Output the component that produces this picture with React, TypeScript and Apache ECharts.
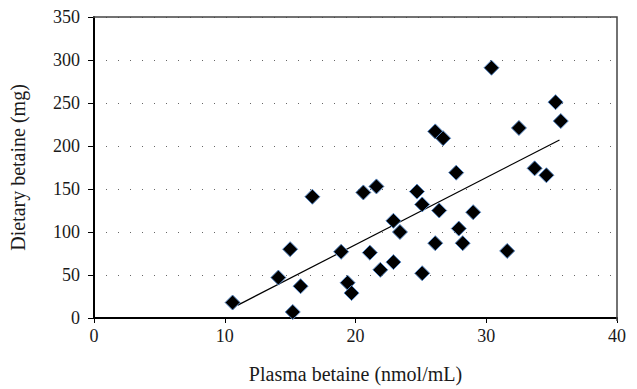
import React, { useEffect, useRef } from "react";
import * as echarts from "echarts";

const plasmaBetaine = [10.6, 14.1, 15.0, 15.8, 15.2, 16.7, 18.9, 19.4, 19.7, 20.6, 21.6, 21.1, 21.9, 22.9, 23.4, 22.9, 24.7, 25.1, 25.1, 26.4, 26.1, 27.7, 27.9, 28.2, 29.0, 31.6, 33.7, 34.6, 30.4, 35.3, 35.7, 32.5, 26.1, 26.7];
const dietaryBetaine = [18, 47, 80, 37, 7, 141, 77, 41, 29, 146, 153, 76, 56, 113, 100, 65, 147, 132, 52, 125, 87, 169, 104, 87, 123, 78, 174, 166, 291, 251, 229, 221, 217, 209];
const trendX = [11.0, 35.6];
const trendY = [15, 207];
const xTicks = [0, 10, 20, 30, 40];
const yTicks = [0, 50, 100, 150, 200, 250, 300, 350];

const FONT = "'Liberation Serif', 'DejaVu Serif', serif";

export default function App() {
  const ref = useRef<HTMLDivElement>(null);
  useEffect(() => {
    if (!ref.current) return;
    const chart = echarts.init(ref.current, null, { renderer: "svg" });
    chart.setOption({
      animation: false,
      backgroundColor: "#ffffff",
      grid: { left: 93, top: 17, width: 524, height: 304, show: false },
      xAxis: {
        type: "value",
        min: xTicks[0],
        max: xTicks[xTicks.length - 1],
        interval: 10,
        name: "Plasma betaine (nmol/mL)",
        nameLocation: "middle",
        nameGap: 46,
        nameTextStyle: { fontFamily: FONT, fontSize: 20, color: "#1a1a1a" },
        axisLine: { show: true, onZero: false, lineStyle: { color: "#000", width: 2 } },
        axisTick: { show: true, inside: false, length: 5, lineStyle: { color: "#000", width: 1 } },
        axisLabel: { fontFamily: FONT, fontSize: 18, color: "#1a1a1a", margin: 9 },
        splitLine: { show: false },
      },
      yAxis: {
        type: "value",
        min: yTicks[0],
        max: yTicks[yTicks.length - 1],
        interval: 50,
        name: "Dietary betaine (mg)",
        nameLocation: "middle",
        nameGap: 66,
        nameRotate: 90,
        nameTextStyle: { fontFamily: FONT, fontSize: 20, color: "#1a1a1a" },
        axisLine: { show: true, onZero: false, lineStyle: { color: "#000", width: 2 } },
        axisTick: { show: true, inside: false, length: 6, lineStyle: { color: "#000", width: 1 } },
        axisLabel: { fontFamily: FONT, fontSize: 18, color: "#1a1a1a", margin: 14 },
        splitLine: {
          show: true,
          lineStyle: { color: "#666", width: 1, type: [1, 11] },
        },
      },
      graphic: [
        {
          type: "polyline",
          shape: { points: [[93, 17], [617, 17], [617, 321]] },
          style: { stroke: "#444", lineWidth: 1.5, fill: "none" },
          z: 10,
        },
      ],
      series: [
        {
          type: "line",
          data: trendX.map((x, i) => [x, trendY[i]]),
          showSymbol: false,
          symbol: "none",
          lineStyle: { color: "#000", width: 1.2 },
          z: 2,
        },
        {
          type: "scatter",
          data: plasmaBetaine.map((x, i) => [x, dietaryBetaine[i]]),
          symbol: "diamond",
          symbolSize: 15,
          itemStyle: { color: "#000", borderColor: "#5a8ac6", borderWidth: 1, opacity: 1 },
          z: 3,
        },
      ],
    });
    return () => chart.dispose();
  }, []);
  return (
    <div
      ref={ref}
      style={{ position: "fixed", left: 0, top: 0, width: 637, height: 389, overflow: "hidden" }}
    />
  );
}
